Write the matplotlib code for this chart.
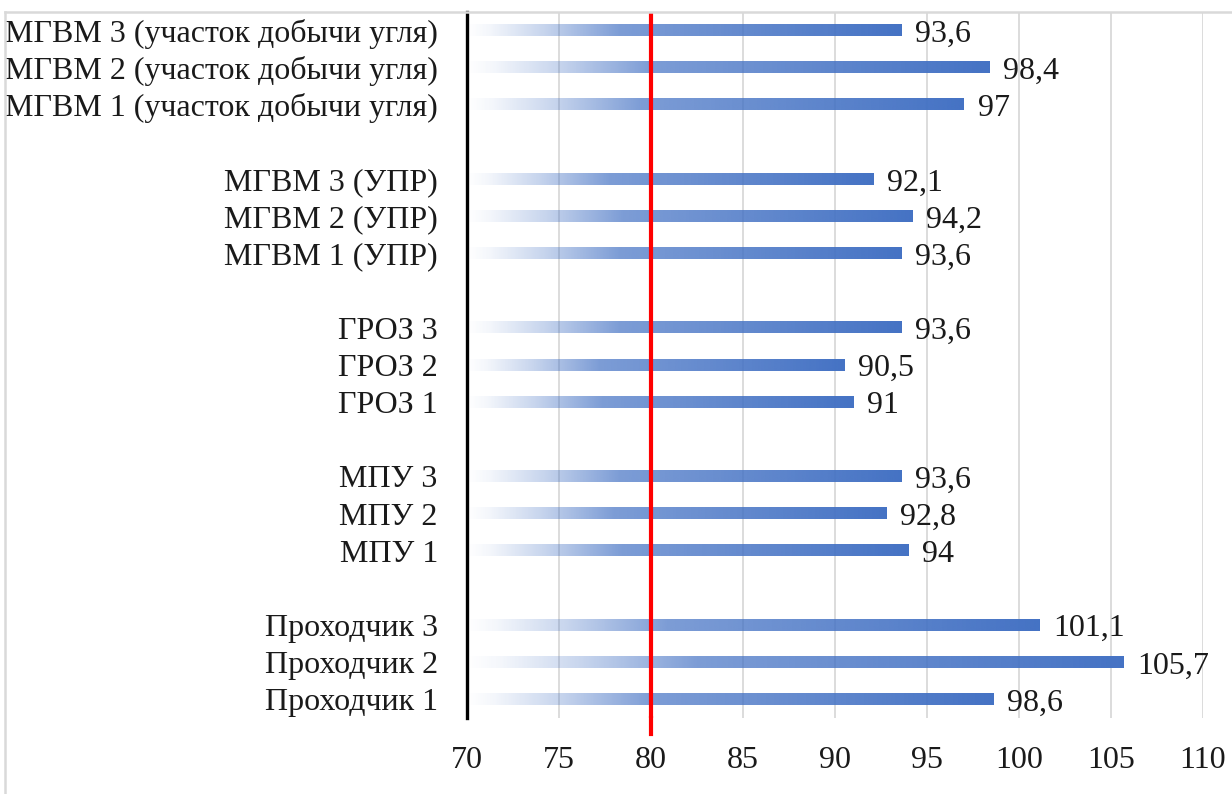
import numpy as np
import matplotlib.pyplot as plt
from matplotlib.lines import Line2D

plt.rcParams['font.family'] = ['Liberation Serif', 'DejaVu Serif']

# groups listed bottom to top, three machines each
group_names = ['Проходчик', 'МПУ', 'ГРОЗ', 'МГВМ', 'МГВМ']
group_suffix = ['', '', '', ' (УПР)', ' (участок добычи угля)']
group_values = [
    [98.6, 105.7, 101.1],
    [94, 92.8, 93.6],
    [91, 90.5, 93.6],
    [93.6, 94.2, 92.1],
    [97, 98.4, 93.6],
]
x_ticks = [70, 75, 80, 85, 90, 95, 100, 105, 110]
x_min, x_max = 70, 110
threshold = 80

labels, values, positions = [], [], []
for g, (name, suf, vals) in enumerate(zip(group_names, group_suffix, group_values)):
    for i, v in enumerate(vals):
        labels.append(f'{name} {i + 1}{suf}')
        values.append(v)
        positions.append(g * 4 + i)

fig = plt.figure(figsize=(12.32, 7.94), dpi=100)
ax = fig.add_axes([467 / 1232, 1 - 718 / 794, (1203 - 467) / 1232, (718 - 12) / 794])

# gradient fill: transparent at the left end, full blue at the bar tip
base = np.array([0x44, 0x72, 0xC4]) / 255
t = np.linspace(0, 1, 400)
alpha = np.interp(t, [0, 0.05, 0.175, 0.35, 1.0], [0.0, 0.06, 0.3, 0.7, 1.0])
grad = np.zeros((1, len(t), 4))
grad[0, :, :3] = base
grad[0, :, 3] = alpha

bar_h = 0.3
for y, v in zip(positions, values):
    ax.imshow(grad, extent=[x_min, v, y - bar_h / 2, y + bar_h / 2],
              aspect='auto', interpolation='bilinear', zorder=2)
    ax.text(v + 0.75, y - 0.1, f'{v:g}'.replace('.', ','), va='center', ha='left',
            fontsize=23, color='#1a1a1a')

ax.set_xlim(x_min, x_max)
ax.set_ylim(-0.5, max(positions) + 0.5)
ax.set_xticks(x_ticks)
ax.set_yticks(positions)
ax.set_yticklabels(labels)
ax.tick_params(axis='both', length=0, labelsize=23, colors='#1a1a1a')
ax.tick_params(axis='x', pad=20)
ax.tick_params(axis='y', pad=21)

ax.grid(axis='x', color='#d9d9d9', linewidth=1.3, zorder=0)
ax.set_axisbelow(True)
for s in ['top', 'right', 'bottom']:
    ax.spines[s].set_visible(False)
ax.spines['left'].set_linewidth(2.4)
ax.spines['left'].set_color('black')
ax.spines['left'].set_zorder(3)

# red threshold line runs a little below the plot area
ax.plot([threshold, threshold], [0, 1.0], transform=ax.get_xaxis_transform(),
        color='#ff0000', linewidth=3.0, zorder=4)
ax.plot([threshold, threshold], [-0.022, 0], transform=ax.get_xaxis_transform(),
        color='#ff0000', linewidth=3.0, zorder=4, clip_on=False)

# chart area border
top_y = 1 - 12 / 794
fig.add_artist(Line2D([5 / 1232, 1.0], [top_y, top_y], color='#d9d9d9', linewidth=1.8))
fig.add_artist(Line2D([5 / 1232, 5 / 1232], [0, top_y], color='#d9d9d9', linewidth=1.8))

fig.savefig('out.png', dpi=100)
